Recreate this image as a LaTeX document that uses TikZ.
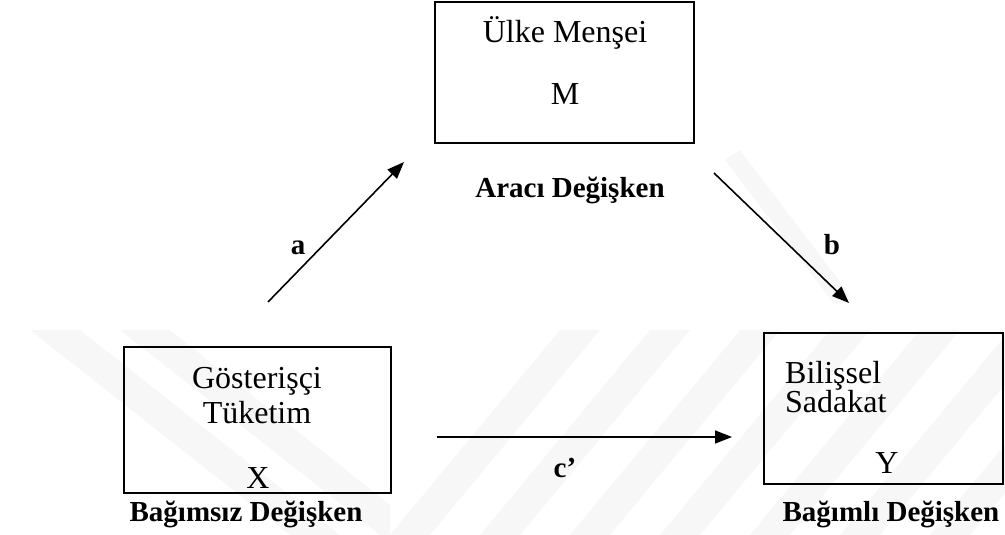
\documentclass[tikz,border=0pt]{standalone}
\usepackage{fontspec}
\setmainfont{Liberation Serif}
\usetikzlibrary{arrows.meta}
\begin{document}
\begin{tikzpicture}[x=1pt,y=-1pt,
  box/.style={draw=black,line width=2pt,minimum width=#1,inner sep=0pt},
  txt/.style={font=\fontsize{32}{38}\selectfont,inner sep=0pt,anchor=base},
  lbl/.style={font=\fontsize{29}{34}\selectfont\bfseries,inner sep=0pt,anchor=base},
  path/.style={line width=1.6pt,-{Triangle[length=17pt,width=13pt]}},
  wm/.style={fill=black!3,draw=none}]
\useasboundingbox (0,0) rectangle (1005,535);
% faint background stripes
\fill[wm] (30,330) -- (80,330) -- (340,535) -- (290,535) -- cycle;
\fill[wm] (120,330) -- (170,330) -- (390,505) -- (390,535) -- (380,535) -- cycle;
\foreach \s in {0,90,...,630}{
  \fill[wm] (390+\s,535) -- (430+\s,535) -- (600+\s,330) -- (560+\s,330) -- cycle;}
\fill[wm] (725,160) -- (740,150) -- (850,295) -- (835,305) -- cycle;

% boxes
\node[box=259pt,minimum height=141pt] (M) at (564.5,72.5) {};
\node[box=267pt,minimum height=146pt] (X) at (257.5,420) {};
\node[box=239pt,minimum height=151pt] (Y) at (883.5,408.5) {};

% box texts
\node[txt] (m1) at (565,43) {Ülke Menşei};
\node[txt] (m2) at (565,105) {M};
\node[txt] (x1) at (257,388) {Gösterişçi};
\node[txt] (x2) at (257,423) {Tüketim};
\node[txt] (x3) at (258,488) {X};
\node[txt,anchor=base west] (y1) at (785,383) {Bilişsel};
\node[txt,anchor=base west] (y2) at (785,412) {Sadakat};
\node[txt] (y3) at (887,473) {Y};

% role labels
\node[lbl] (ml) at (570,197) {Aracı Değişken};
\node[lbl] (xl) at (246,521) {Bağımsız Değişken};
\node[lbl] (yl) at (891,521) {Bağımlı Değişken};

% paths
\coordinate (a0) at (268,302); \coordinate (a1) at (404,162);
\coordinate (b0) at (714,173); \coordinate (b1) at (849,303);
\coordinate (c0) at (437,437); \coordinate (c1) at (732,437);
\draw[path] (a0) -- (a1);
\draw[path] (b0) -- (b1);
\draw[path] (c0) -- (c1);
\node[lbl] (la) at (298,254) {a};
\node[lbl] (lb) at (832,254) {b};
\node[lbl] (lc) at (565,477) {c’};
\end{tikzpicture}
\end{document}
